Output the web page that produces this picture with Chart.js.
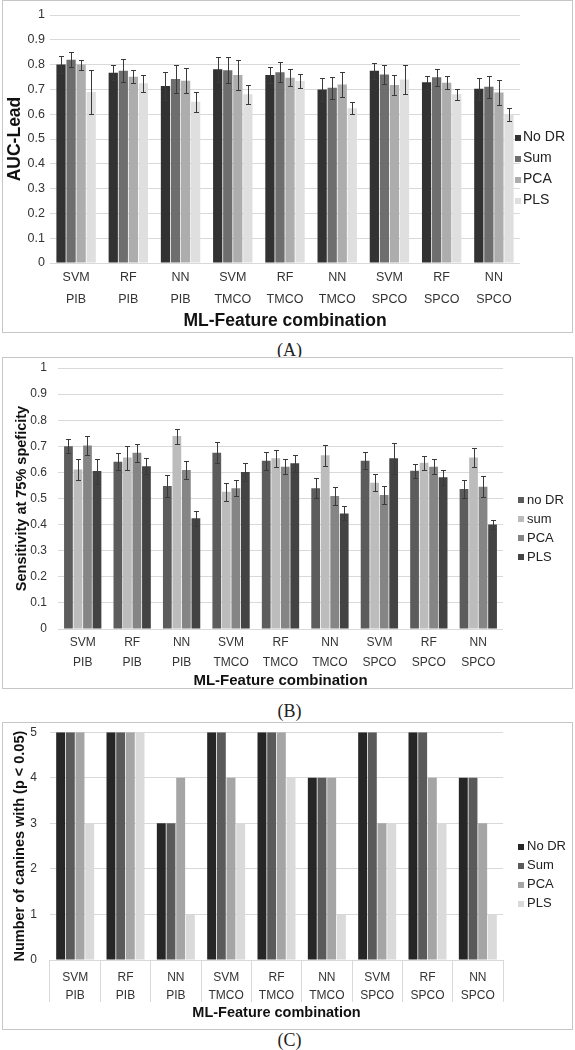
<!DOCTYPE html>
<html>
<head>
<meta charset="utf-8">
<script src="https://cdn.jsdelivr.net/npm/chart.js"></script>
<style>
body { margin: 0; background: #fff; width: 575px; height: 1050px; position: relative; overflow: hidden; }
.box { position: absolute; left: 2px; width: 569px; border: 1px solid #c6c6c6; background: #fff; }
.box canvas { position: absolute; left: 0; top: 0; }
.cap { position: absolute; left: 2px; width: 575px; text-align: center; font-family: "Liberation Serif", "Times New Roman", serif; font-size: 18px; color: #222; }
</style>
</head>
<body>
<div class="box" style="top:0px;height:331px"><canvas id="chartA" width="569" height="331"></canvas></div>
<div class="cap" style="top:340px">(A)</div>
<div class="box" style="top:357px;height:330px"><canvas id="chartB" width="569" height="330"></canvas></div>
<div class="cap" style="top:701px">(B)</div>
<div class="box" style="top:722px;height:306px"><canvas id="chartC" width="569" height="306"></canvas></div>
<div class="cap" style="top:1030px">(C)</div>

<script>
// categories (two-level labels)
const algorithms = ['SVM', 'RF', 'NN', 'SVM', 'RF', 'NN', 'SVM', 'RF', 'NN'];
const featureSets = ['PIB', 'PIB', 'PIB', 'TMCO', 'TMCO', 'TMCO', 'SPCO', 'SPCO', 'SPCO'];

// (A) AUC-Lead
const aucNoDR = [0.80, 0.767, 0.714, 0.781, 0.758, 0.70, 0.775, 0.729, 0.703];
const aucNoDRErr = [0.033, 0.03, 0.057, 0.05, 0.032, 0.045, 0.033, 0.027, 0.044];
const aucSum = [0.82, 0.775, 0.742, 0.777, 0.769, 0.707, 0.76, 0.749, 0.711];
const aucSumErr = [0.03, 0.047, 0.057, 0.052, 0.04, 0.045, 0.037, 0.034, 0.045];
const aucPCA = [0.80, 0.751, 0.735, 0.758, 0.747, 0.72, 0.718, 0.727, 0.687];
const aucPCAErr = [0.02, 0.027, 0.05, 0.062, 0.035, 0.05, 0.04, 0.027, 0.05];
const aucPLS = [0.69, 0.725, 0.65, 0.68, 0.734, 0.624, 0.74, 0.68, 0.60];
const aucPLSErr = [0.09, 0.034, 0.04, 0.038, 0.03, 0.025, 0.057, 0.023, 0.027];
const aucTicks = [0, 1, 0.1];

// (B) Sensitivity at 75% specificity
const sensNoDR = [0.70, 0.641, 0.548, 0.675, 0.645, 0.539, 0.645, 0.606, 0.536];
const sensNoDRErr = [0.027, 0.032, 0.041, 0.04, 0.035, 0.038, 0.032, 0.027, 0.034];
const sensSum = [0.611, 0.657, 0.739, 0.526, 0.654, 0.666, 0.56, 0.637, 0.657];
const sensSumErr = [0.041, 0.046, 0.029, 0.035, 0.033, 0.04, 0.033, 0.027, 0.037];
const sensPCA = [0.703, 0.675, 0.609, 0.539, 0.622, 0.51, 0.513, 0.622, 0.545];
const sensPCAErr = [0.036, 0.035, 0.035, 0.03, 0.03, 0.034, 0.035, 0.029, 0.041];
const sensPLS = [0.605, 0.624, 0.424, 0.602, 0.635, 0.443, 0.654, 0.581, 0.40];
const sensPLSErr = [0.048, 0.031, 0.029, 0.035, 0.032, 0.027, 0.059, 0.03, 0.018];
const sensTicks = [0, 1, 0.1];

// (C) Number of canines with p < 0.05
const cntNoDR = [5, 5, 3, 5, 5, 4, 5, 5, 4];
const cntSum = [5, 5, 3, 5, 5, 4, 5, 5, 4];
const cntPCA = [5, 5, 4, 4, 5, 4, 3, 4, 3];
const cntPLS = [3, 5, 1, 3, 4, 1, 3, 3, 1];
const cntTicks = [0, 5, 1];

const categories = algorithms.map((a, i) => [a, featureSets[i]]);
const FONT = '"Liberation Sans", Arial, sans-serif';

// error bars read from dataset.errors, placed through the y scale
const errorBars = {
    id: 'errorBars',
    afterDatasetsDraw(chart, args, opts) {
        const ctx = chart.ctx;
        const yScale = chart.scales.y;
        ctx.save();
        ctx.strokeStyle = opts.color;
        ctx.lineWidth = 1;
        chart.data.datasets.forEach((ds, i) => {
            if (!ds.errors) return;
            chart.getDatasetMeta(i).data.forEach((bar, j) => {
                const v = ds.data[j], e = ds.errors[j];
                const x = Math.round(bar.x) + 0.5;
                const yTop = Math.round(yScale.getPixelForValue(v + e)) + 0.5;
                const yBot = Math.round(yScale.getPixelForValue(v - e)) + 0.5;
                ctx.beginPath();
                ctx.moveTo(x, yTop); ctx.lineTo(x, yBot);
                ctx.moveTo(x - opts.cap, yTop); ctx.lineTo(x + opts.cap, yTop);
                ctx.moveTo(x - opts.cap, yBot); ctx.lineTo(x + opts.cap, yBot);
                ctx.stroke();
            });
        });
        ctx.restore();
    }
};

// small square legend at the right side
const boxLegend = {
    id: 'boxLegend',
    afterDraw(chart, args, opts) {
        const ctx = chart.ctx;
        ctx.save();
        ctx.font = opts.size + 'px ' + FONT;
        ctx.textBaseline = 'middle';
        chart.data.datasets.forEach((ds, i) => {
            const y = opts.y + i * opts.gap;
            ctx.fillStyle = ds.backgroundColor;
            ctx.fillRect(opts.x, Math.round(y - opts.box / 2), opts.box, opts.box);
            ctx.fillStyle = opts.color;
            ctx.fillText(ds.label, opts.textX, y);
        });
        ctx.restore();
    }
};

function makeDatasets(labels, colors, values, errors) {
    return labels.map((label, i) => ({
        label: label,
        data: values[i],
        errors: errors ? errors[i] : null,
        backgroundColor: colors[i],
        borderWidth: 0,
        barPercentage: 0.92,
        categoryPercentage: 0.77
    }));
}

function makeChart(id, cfg) {
    return new Chart(document.getElementById(id), {
        type: 'bar',
        data: { labels: categories, datasets: cfg.datasets },
        options: {
            responsive: false,
            animation: false,
            layout: { padding: { top: cfg.top, right: cfg.right, left: 0, bottom: 0 } },
            plugins: {
                legend: { display: false },
                tooltip: { enabled: false },
                errorBars: { color: '#3a3a3a', cap: 2.5 },
                boxLegend: cfg.legend
            },
            scales: {
                x: {
                    grid: cfg.xGrid,
                    border: { display: false },
                    ticks: {
                        color: '#333',
                        font: { family: FONT, size: cfg.tickSize, lineHeight: cfg.tickLine + 'px' },
                        padding: cfg.tickPad,
                        maxRotation: 0,
                        autoSkip: false
                    },
                    title: {
                        display: true,
                        text: 'ML-Feature combination',
                        color: '#111',
                        font: { family: FONT, size: cfg.xTitleSize, weight: 'bold', lineHeight: cfg.xTitleLine + 'px' },
                        padding: { top: 0, bottom: cfg.xTitlePad }
                    },
                    afterFit: s => { s.height = cfg.xHeight; }
                },
                y: {
                    min: cfg.ticks[0],
                    max: cfg.ticks[1],
                    ticks: {
                        stepSize: cfg.ticks[2],
                        color: '#333',
                        font: { family: FONT, size: cfg.tickSize },
                        padding: 2,
                        callback: v => String(Math.round(v * 10) / 10)
                    },
                    grid: { color: '#d9d9d9', drawTicks: true, tickLength: cfg.yTickGap, tickColor: 'rgba(0,0,0,0)' },
                    border: { display: false },
                    title: {
                        display: true,
                        text: cfg.yTitle,
                        color: '#111',
                        font: { family: FONT, size: cfg.yTitleSize, weight: 'bold', lineHeight: 1.2 },
                        padding: { top: cfg.yTitlePad, bottom: 0 }
                    },
                    afterFit: s => { s.width = cfg.yWidth; }
                }
            }
        },
        plugins: [errorBars, boxLegend]
    });
}

makeChart('chartA', {
    datasets: makeDatasets(['No DR', 'Sum', 'PCA', 'PLS'],
        ['#323232', '#6e6e6e', '#adadad', '#dfdfdf'],
        [aucNoDR, aucSum, aucPCA, aucPLS],
        [aucNoDRErr, aucSumErr, aucPCAErr, aucPLSErr]),
    ticks: aucTicks,
    top: 14, right: 52, yWidth: 47, xHeight: 69,
    tickSize: 12.5, tickLine: 22, tickPad: 4, yTickGap: 3,
    xGrid: { display: false, drawTicks: false },
    xTitleSize: 17.5, xTitleLine: 21, xTitlePad: 0,
    yTitle: 'AUC-Lead', yTitleSize: 17.5, yTitlePad: 2,
    legend: { x: 512, textX: 520, y: 136.5, gap: 21, box: 6, size: 14, color: '#222' }
});

makeChart('chartB', {
    datasets: makeDatasets(['no DR', 'sum', 'PCA', 'PLS'],
        ['#5c5c5c', '#bcbcbc', '#858585', '#434343'],
        [sensNoDR, sensSum, sensPCA, sensPLS],
        [sensNoDRErr, sensSumErr, sensPCAErr, sensPLSErr]),
    ticks: sensTicks,
    top: 10, right: 69, yWidth: 55, xHeight: 59,
    tickSize: 12, tickLine: 20, tickPad: 4, yTickGap: 9,
    xGrid: { display: false, drawTicks: false },
    xTitleSize: 15, xTitleLine: 14, xTitlePad: 0,
    yTitle: 'Sensitivity at 75% speficity', yTitleSize: 14.5, yTitlePad: 10,
    legend: { x: 515, textX: 524, y: 142, gap: 19, box: 6, size: 13, color: '#222' }
});

makeChart('chartC', {
    datasets: makeDatasets(['No DR', 'Sum', 'PCA', 'PLS'],
        ['#262626', '#5a5a5a', '#a5a5a5', '#dadada'],
        [cntNoDR, cntSum, cntPCA, cntPLS], null),
    ticks: cntTicks,
    top: 9, right: 69, yWidth: 47, xHeight: 69,
    tickSize: 12, tickLine: 18, tickPad: -33, yTickGap: 11,
    xGrid: { display: true, offset: true, drawOnChartArea: false, drawTicks: true, tickLength: 42, color: '#d9d9d9' },
    xTitleSize: 14.5, xTitleLine: 17, xTitlePad: 8,
    yTitle: 'Number of canines with (p < 0.05)', yTitleSize: 14.5, yTitlePad: 8,
    legend: { x: 515, textX: 524, y: 123.7, gap: 19, box: 6, size: 13, color: '#222' }
});
</script>
</body>
</html>
